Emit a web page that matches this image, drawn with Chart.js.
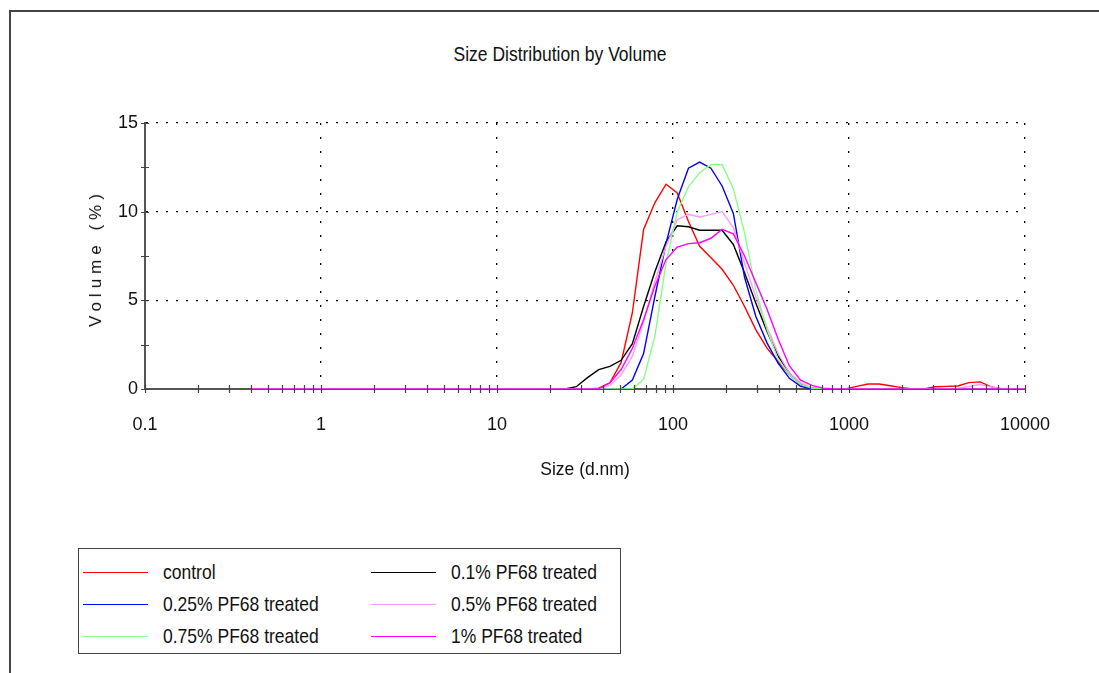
<!DOCTYPE html>
<html>
<head>
<meta charset="utf-8">
<title>Size Distribution by Volume</title>
<script src="https://cdn.jsdelivr.net/npm/chart.js@4.4.0/dist/chart.umd.min.js"></script>
<style>
    body { margin: 0; background: #fff; font-family: "Liberation Sans", Arial, sans-serif; color: #111; }
    #frame { position: absolute; left: 9px; top: 10px; width: 1200px; height: 800px;
             border-left: 2px solid #444; border-top: 2px solid #444; }
    #title { position: absolute; left: 10px; top: 44px; width: 1100px; text-align: center; font-size: 17.5px;
             transform: scaleY(1.2); }
    #wrap { position: absolute; left: 0; top: 0; width: 1099px; height: 500px; }
    #ytitle { position: absolute; left: 96px; top: 258px; transform: translate(-50%, -50%) rotate(-90deg);
              font-size: 17px; letter-spacing: 5px; white-space: nowrap; }
    #legend { position: absolute; left: 78px; top: 548px; width: 543px; height: 106px; box-sizing: border-box;
              border: 1px solid #444; padding-top: 7px; display: grid;
              grid-template-columns: 288px 250px; grid-auto-rows: 32px; }
    .item { display: flex; align-items: center; font-size: 17.5px; }
    .item span.swatch { width: 65px; height: 0; border-top: 1.5px solid; margin: 0 15px 0 4px; }
    .item span.text { display: inline-block; transform: scaleY(1.2); }
</style>
</head>
<body>
<div id="frame"></div>
<div id="title">Size Distribution by Volume</div>
<div id="wrap"><canvas id="chartSize"></canvas></div>
<div id="ytitle">Volume (%)</div>
<div id="legend"></div>

<script>
// size classes (d.nm)
const sizes = [0.4, 0.4632, 0.5365, 0.6213, 0.7195, 0.8332, 0.9649, 1.117, 1.294, 1.499,
    1.736, 2.010, 2.328, 2.696, 3.122, 3.615, 4.187, 4.849, 5.615, 6.503,
    7.531, 8.721, 10.10, 11.70, 13.54, 15.69, 18.17, 21.04, 24.36, 28.21,
    32.67, 37.84, 43.82, 50.75, 58.77, 68.06, 78.82, 91.28, 105.7, 122.4,
    141.8, 164.2, 190.1, 220.2, 255.0, 295.3, 342.0, 396.1, 458.7, 531.2,
    615.1, 712.4, 825.0, 955.4, 1106, 1281, 1484, 1718, 1990, 2305,
    2669, 3091, 3580, 4145, 4801, 5560, 6439, 7456, 8635, 10000];

// volume % per size class
const control = [0, 0, 0, 0, 0, 0, 0, 0, 0, 0,
    0, 0, 0, 0, 0, 0, 0, 0, 0, 0,
    0, 0, 0, 0, 0, 0, 0, 0, 0, 0,
    0, 0.05, 0.35, 1.5, 4.3, 9.0, 10.5, 11.55, 11.05, 9.45,
    8.05, 7.4, 6.75, 5.85, 4.65, 3.35, 2.3, 1.55, 0.8, 0.25,
    0.05, 0, 0, 0, 0.15, 0.28, 0.28, 0.18, 0.08, 0,
    0, 0.13, 0.15, 0.17, 0.36, 0.4, 0.12, 0, 0, 0];
const pf01 = [0, 0, 0, 0, 0, 0, 0, 0, 0, 0,
    0, 0, 0, 0, 0, 0, 0, 0, 0, 0,
    0, 0, 0, 0, 0, 0, 0, 0, 0, 0.13,
    0.64, 1.09, 1.28, 1.62, 2.56, 4.65, 6.6, 8.3, 9.2, 9.15,
    8.95, 8.95, 8.95, 8.15, 6.55, 4.85, 3.25, 1.85, 0.9, 0.25,
    0.05, 0, 0, 0, 0, 0, 0, 0, 0, 0,
    0, 0, 0, 0, 0, 0, 0, 0, 0, 0];
const pf025 = [0, 0, 0, 0, 0, 0, 0, 0, 0, 0,
    0, 0, 0, 0, 0, 0, 0, 0, 0, 0,
    0, 0, 0, 0, 0, 0, 0, 0, 0, 0,
    0, 0, 0, 0, 0.5, 2.0, 5.2, 8.2, 10.7, 12.45,
    12.8, 12.45, 11.45, 9.9, 6.3, 4.1, 2.6, 1.45, 0.6, 0.15,
    0, 0, 0, 0, 0, 0, 0, 0, 0, 0,
    0, 0, 0, 0, 0, 0, 0, 0, 0, 0];
const pf05 = [0, 0, 0, 0, 0, 0, 0, 0, 0, 0,
    0, 0, 0, 0, 0, 0, 0, 0, 0, 0,
    0, 0, 0, 0, 0, 0, 0, 0, 0, 0,
    0, 0, 0.2, 0.8, 1.85, 3.8, 6.05, 8.05, 9.55, 9.85,
    9.7, 9.85, 10.0, 9.1, 7.1, 5.2, 3.5, 2.0, 0.9, 0.35,
    0.05, 0, 0, 0, 0, 0, 0, 0, 0, 0,
    0, 0, 0, 0.03, 0.15, 0.25, 0.12, 0, 0, 0];
const pf075 = [0, 0, 0, 0, 0, 0, 0, 0, 0, 0,
    0, 0, 0, 0, 0, 0, 0, 0, 0, 0,
    0, 0, 0, 0, 0, 0, 0, 0, 0, 0,
    0, 0, 0, 0, 0, 0.55, 2.95, 7.1, 10.0, 11.4,
    12.2, 12.65, 12.65, 11.3, 8.8, 5.6, 3.35, 1.65, 0.8, 0.25,
    0.05, 0, 0, 0, 0, 0, 0, 0, 0, 0,
    0, 0, 0, 0, 0, 0, 0, 0, 0, 0];
const pf1 = [0, 0, 0, 0, 0, 0, 0, 0, 0, 0,
    0, 0, 0, 0, 0, 0, 0, 0, 0, 0,
    0, 0, 0, 0, 0, 0, 0, 0, 0, 0,
    0, 0, 0.35, 1.1, 2.3, 3.9, 5.8, 7.3, 8.0, 8.2,
    8.25, 8.5, 9.0, 8.75, 7.5, 6.0, 4.5, 2.8, 1.3, 0.5,
    0.2, 0.05, 0, 0, 0, 0, 0, 0, 0, 0,
    0, 0, 0, 0, 0, 0, 0, 0, 0, 0];

const xTickLabels = [0.1, 1, 10, 100, 1000, 10000];
const yTickLabels = [0, 5, 10, 15];

// legend order (row by row, two columns)
const series = [
    { label: 'control',            data: control, color: '#ff0000' },
    { label: '0.1% PF68 treated',  data: pf01,    color: '#000000' },
    { label: '0.25% PF68 treated', data: pf025,   color: '#0000ff' },
    { label: '0.5% PF68 treated',  data: pf05,    color: '#ff99ff' },
    { label: '0.75% PF68 treated', data: pf075,   color: '#88ff88' },
    { label: '1% PF68 treated',    data: pf1,     color: '#ff00ff' }
];

Chart.defaults.font.family = '"Liberation Sans", Arial, sans-serif';
Chart.defaults.color = '#111';

// short tick marks crossing both axes
const axisTicks = {
    id: 'axisTicks',
    afterDraw(chart) {
        const { ctx, chartArea, scales: { x, y } } = chart;
        ctx.save();
        ctx.strokeStyle = '#444';
        ctx.lineWidth = 1.2;
        ctx.beginPath();
        x.ticks.forEach(t => {
            const px = Math.round(x.getPixelForValue(t.value)) + 0.5;
            ctx.moveTo(px, chartArea.bottom - 4);
            ctx.lineTo(px, chartArea.bottom + 4);
        });
        y.ticks.forEach(t => {
            const py = Math.round(y.getPixelForValue(t.value)) + 0.5;
            ctx.moveTo(chartArea.left - 4, py);
            ctx.lineTo(chartArea.left + 4, py);
        });
        ctx.stroke();
        ctx.restore();
    }
};

const chart = new Chart(document.getElementById('chartSize'), {
    type: 'line',
    data: {
        labels: sizes,
        datasets: series.map((s, i) => ({
            label: s.label,
            data: s.data,
            borderColor: s.color,
            backgroundColor: s.color,
            borderWidth: 1.4,
            pointRadius: 0,
            tension: 0,
            fill: false,
            order: series.length - i
        }))
    },
    options: {
        responsive: true,
        maintainAspectRatio: false,
        animation: false,
        layout: { padding: { top: 123, right: 74, bottom: 19, left: 0 } },
        plugins: {
            legend: { display: false },
            tooltip: { enabled: false }
        },
        scales: {
            x: {
                type: 'logarithmic',
                min: 0.1,
                max: 10000,
                afterBuildTicks(scale) {
                    const ticks = [];
                    xTickLabels.forEach((d, i) => {
                        ticks.push({ value: d, major: true });
                        if (i < xTickLabels.length - 1) {
                            for (let k = 2; k <= 9; k++) ticks.push({ value: d * k, major: false });
                        }
                    });
                    scale.ticks = ticks;
                },
                afterFit(scale) { scale.height = 92; },
                grid: {
                    drawTicks: false,
                    lineWidth: 1.3,
                    color: ctx => (ctx.tick && ctx.tick.major && ctx.index > 0) ? '#000' : 'rgba(0,0,0,0)'
                },
                border: { color: '#555', width: 2, dash: [2, 12] },
                ticks: {
                    autoSkip: false,
                    maxRotation: 0,
                    padding: 25,
                    font: { size: 18 },
                    callback: (v, i, ticks) => ticks[i].major ? String(v) : ''
                },
                title: {
                    display: true,
                    text: 'Size (d.nm)',
                    font: { size: 17.5 },
                    padding: { top: 0, bottom: 0 }
                }
            },
            y: {
                min: 0,
                max: 15,
                afterFit(scale) { scale.width = 145; },
                grid: {
                    drawTicks: false,
                    lineWidth: 1.3,
                    color: ctx => (ctx.tick && ctx.tick.value > 0 && yTickLabels.includes(ctx.tick.value)) ? '#000' : 'rgba(0,0,0,0)'
                },
                border: { color: '#555', width: 2, dash: [2, 8] },
                ticks: {
                    stepSize: 2.5,
                    autoSkip: false,
                    padding: 7,
                    font: { size: 18 },
                    callback: v => yTickLabels.includes(v) ? String(v) : ''
                }
            }
        }
    },
    plugins: [axisTicks]
});

// boxed legend, two columns
const legendEl = document.getElementById('legend');
chart.data.datasets.forEach(ds => {
    const item = document.createElement('div');
    item.className = 'item';
    const sw = document.createElement('span');
    sw.className = 'swatch';
    sw.style.borderTopColor = ds.borderColor;
    const txt = document.createElement('span');
    txt.className = 'text';
    txt.textContent = ds.label;
    item.appendChild(sw);
    item.appendChild(txt);
    legendEl.appendChild(item);
});
</script>
</body>
</html>
